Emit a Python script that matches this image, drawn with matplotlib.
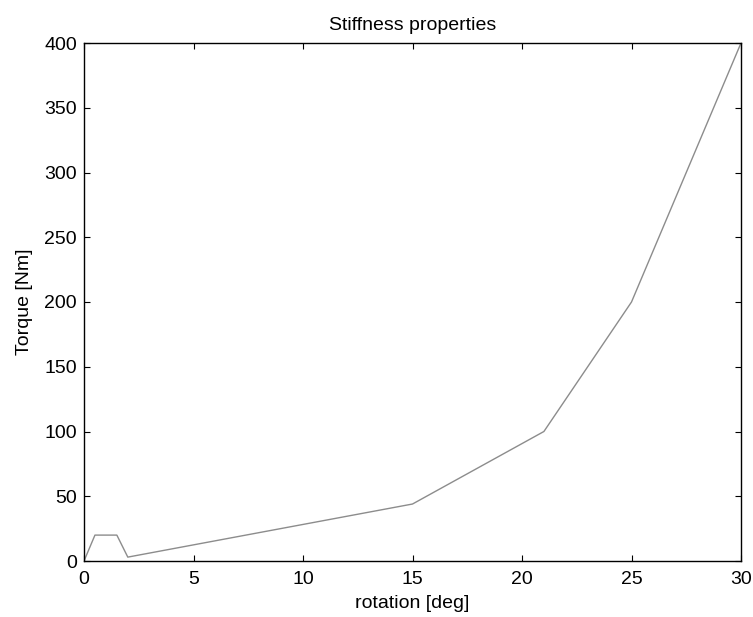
import matplotlib
matplotlib.use("Agg")
import matplotlib.pyplot as plt

rotation_deg = [0, 0.5, 1.5, 2, 15, 21, 25, 30]
torque_nm = [0, 20, 20, 3, 44, 100, 200, 400]
xticks = [0, 5, 10, 15, 20, 25, 30]
yticks = [0, 50, 100, 150, 200, 250, 300, 350, 400]

plt.rcParams['font.family'] = ['Liberation Sans', 'DejaVu Sans']
fig = plt.figure(figsize=(7.53, 6.17), dpi=100)
ax = fig.add_axes([84/753, 56/617, (741-84)/753, (561-43)/617])
ax.plot(rotation_deg, torque_nm, color='#8c8c8c', linewidth=1.0)
ax.set_xlim(0, 30)
ax.set_ylim(0, 400)
ax.set_xticks(xticks)
ax.set_yticks(yticks)
ax.tick_params(direction='in', length=4, width=0.8, labelsize=14, top=True, right=True)
ax.tick_params(axis='x', pad=7)
ax.tick_params(axis='y', pad=5)
for s in ax.spines.values():
    s.set_linewidth(1.0)
ax.set_xlabel('rotation [deg]', fontsize=14, labelpad=5.5)
ax.set_ylabel('Torque [Nm]', fontsize=14, labelpad=8)
ax.set_title('Stiffness properties', fontsize=14, pad=9)
fig.savefig('out.png', dpi=100)
